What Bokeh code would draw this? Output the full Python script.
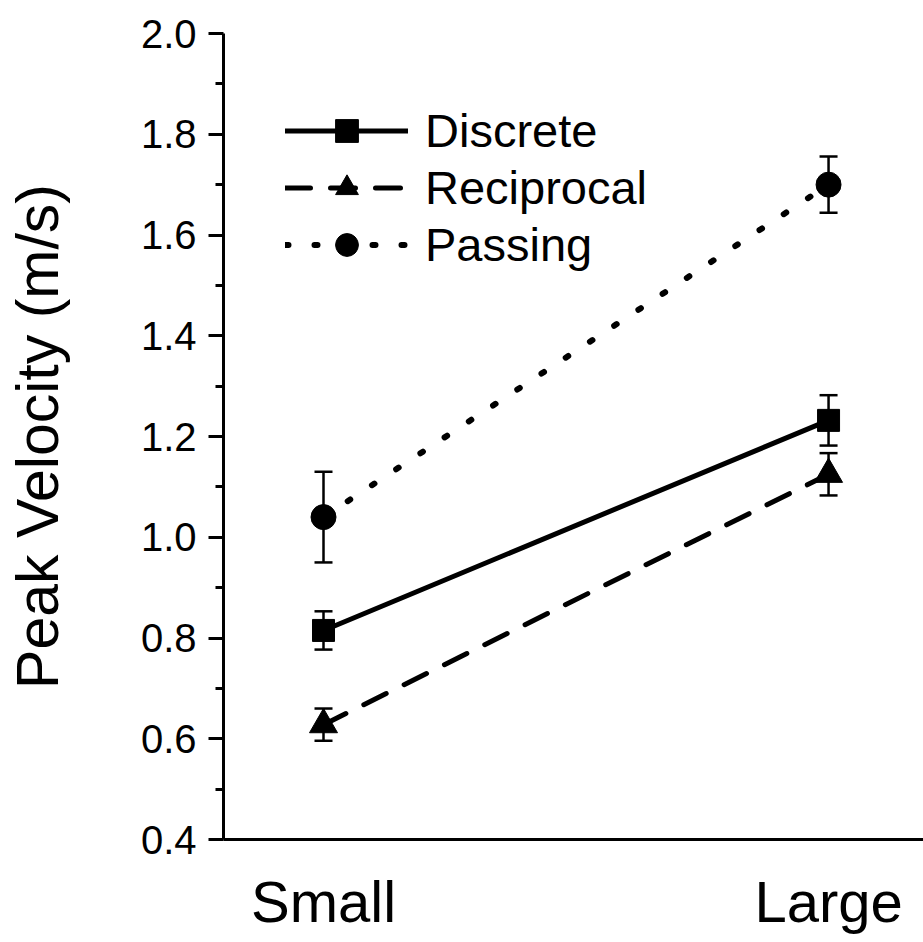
from bokeh.plotting import figure
from bokeh.models import (Range1d, FixedTicker, Legend, LegendItem, Whisker,
                          TeeHead, ColumnDataSource)
from bokeh.embed import file_html
from bokeh.resources import INLINE

# ---- data ----
conditions = ["Small", "Large"]
x_pos = [0, 1]
discrete = [0.815, 1.232]
discrete_err = [0.038, 0.050]
reciprocal = [0.628, 1.125]
reciprocal_err = [0.032, 0.042]
passing = [1.040, 1.700]
passing_err = [0.090, 0.056]
y_major = [0.4, 0.6, 0.8, 1.0, 1.2, 1.4, 1.6, 1.8, 2.0]
y_labels = ["0.4", "0.6", "0.8", "1.0", "1.2", "1.4", "1.6", "1.8", "2.0"]
y_minor = [0.5, 0.7, 0.9, 1.1, 1.3, 1.5, 1.7, 1.9]

FONT = "Liberation Sans"

p = figure(width=923, height=942, output_backend="svg", toolbar_location=None,
           x_range=Range1d(-0.198, 1.188), y_range=Range1d(0.4, 2.0),
           min_border_left=223, min_border_right=0, min_border_top=33,
           min_border_bottom=103)
p.outline_line_color = None
p.grid.visible = False
p.background_fill_color = "white"
p.border_fill_color = "white"

# y axis
ya = p.yaxis[0]
ya.ticker = FixedTicker(ticks=y_major, minor_ticks=y_minor)
ya.major_label_overrides = {v: s for v, s in zip(y_major, y_labels)}
ya.axis_label = "Peak Velocity (m/s)"
ya.axis_label_text_font = FONT
ya.axis_label_text_font_size = "59px"
ya.axis_label_text_font_style = "normal"
ya.axis_label_text_color = "black"
ya.axis_label_standoff = 67
ya.major_label_text_font = FONT
ya.major_label_text_font_size = "40px"
ya.major_label_text_color = "black"
ya.major_label_standoff = 12
ya.axis_line_width = 3
ya.axis_line_color = "black"
ya.major_tick_line_width = 3
ya.minor_tick_line_width = 3
ya.major_tick_line_color = "black"
ya.minor_tick_line_color = "black"
ya.major_tick_out = 15
ya.major_tick_in = 0
ya.minor_tick_out = 8
ya.minor_tick_in = 0

# x axis
xa = p.xaxis[0]
xa.ticker = FixedTicker(ticks=x_pos, minor_ticks=[])
xa.major_label_overrides = {x: c for x, c in zip(x_pos, conditions)}
xa.major_label_text_font = FONT
xa.major_label_text_font_size = "58px"
xa.major_label_text_color = "black"
xa.major_label_standoff = 23
xa.axis_line_width = 3
xa.axis_line_color = "black"
xa.major_tick_line_color = None
xa.minor_tick_line_color = None

series = [
    ("Discrete", discrete, discrete_err, "solid", "square", 22, 5),
    ("Reciprocal", reciprocal, reciprocal_err, "25 20", "triangle", 28, 5),
    ("Passing", passing, passing_err, "3 26", "circle", 25, 6),
]

items = []
for name, vals, errs, dash, marker, msize, lw in series:
    src = ColumnDataSource(dict(
        x=x_pos, y=vals,
        upper=[v + e for v, e in zip(vals, errs)],
        lower=[v - e for v, e in zip(vals, errs)]))
    w = Whisker(base="x", upper="upper", lower="lower", source=src,
                dimension="height", line_width=2.5, line_color="black",
                upper_head=TeeHead(size=18, line_width=2.5, line_color="black"),
                lower_head=TeeHead(size=18, line_width=2.5, line_color="black"),
                level="underlay")
    p.add_layout(w)
    ln = p.line("x", "y", source=src, line_width=lw, line_color="black",
                line_dash=dash, line_cap="round")
    sc = p.scatter("x", "y", source=src, marker=marker, size=msize,
                   fill_color="black", line_color="black", line_width=1)
    items.append(LegendItem(label=name, renderers=[ln, sc]))

legend = Legend(items=items, location=(62, 566), glyph_width=123,
                glyph_height=57, label_height=57, spacing=0, padding=0,
                margin=0, label_standoff=17, border_line_color=None,
                background_fill_alpha=0, label_text_font=FONT,
                label_text_font_size="47px", label_text_color="black")
p.add_layout(legend)

open("out.html", "w").write(file_html(p, INLINE))
